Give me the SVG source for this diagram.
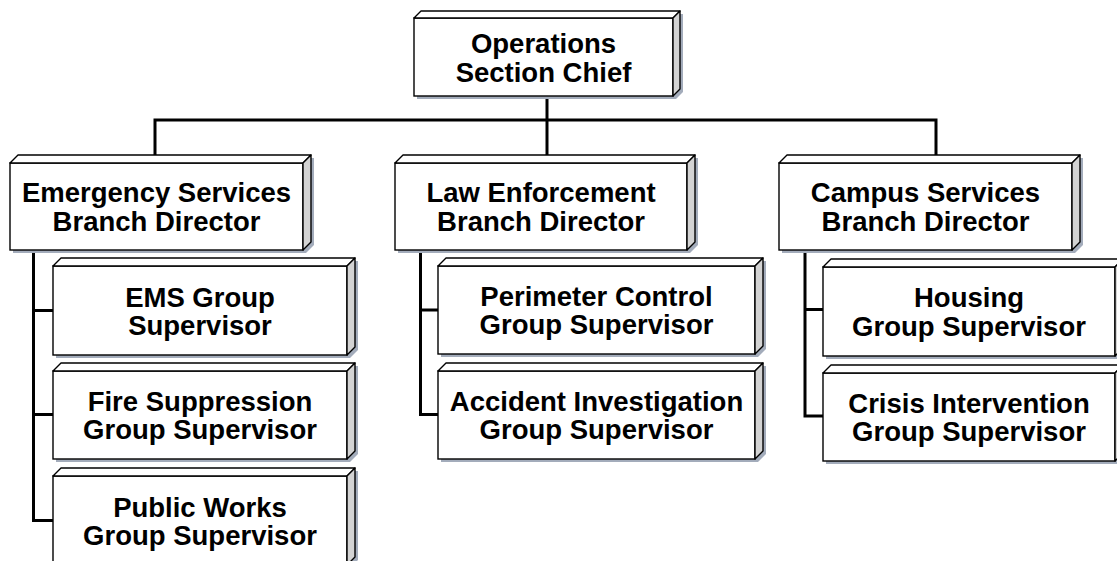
<svg xmlns="http://www.w3.org/2000/svg" width="1117" height="561" viewBox="0 0 1117 561">
<style>
.sh{fill:#a3acbb;stroke:none}
.fr{fill:#ffffff;stroke:#000;stroke-width:1.4}
.tp{fill:#ffffff;stroke:#000;stroke-width:1.4;stroke-linejoin:round}
.sd{fill:#d3d3d3;stroke:#000;stroke-width:1.4;stroke-linejoin:round}
.cn{fill:none;stroke:#000;stroke-width:3;stroke-linejoin:miter}
text{font-family:"Liberation Sans",Arial,sans-serif;font-weight:bold;font-size:27.5px;text-anchor:middle;fill:#000}
</style>
<rect width="1117" height="561" fill="#ffffff"/>
<g id="connectors">
<path class="cn" d="M155,163 V120 H936 V163"/>
<path class="cn" d="M547,96 V163"/>
<path class="cn" d="M33.5,250 V520.5 H53 M33.5,310.5 H53 M33.5,414.5 H53"/>
<path class="cn" d="M420.5,250 V414.5 H438 M420.5,310 H438"/>
<path class="cn" d="M805,250 V416 H823 M805,309.5 H823"/>
</g>
<g id="ops-chief">
<path class="sh" d="M417,21 L424,14 L683,14 L683,92 L676,99 L417,99 Z"/>
<rect class="fr" x="414" y="18" width="259" height="78"/>
<polygon class="tp" points="414,18 421,11 680,11 673,18"/>
<polygon class="sd" points="673,18 680,11 680,89 673,96"/>
<text x="543.5" y="52.5">Operations</text>
<text x="543.5" y="81.5">Section Chief</text>
</g>
<g id="emergency-branch">
<path class="sh" d="M13,166 L21,158 L314,158 L314,245 L306,253 L13,253 Z"/>
<rect class="fr" x="10" y="163" width="293" height="87"/>
<polygon class="tp" points="10,163 18,155 311,155 303,163"/>
<polygon class="sd" points="303,163 311,155 311,242 303,250"/>
<text x="156.5" y="202">Emergency Services</text>
<text x="156.5" y="230.5">Branch Director</text>
</g>
<g id="law-branch">
<path class="sh" d="M398,166 L406,158 L698,158 L698,245 L690,253 L398,253 Z"/>
<rect class="fr" x="395" y="163" width="292" height="87"/>
<polygon class="tp" points="395,163 403,155 695,155 687,163"/>
<polygon class="sd" points="687,163 695,155 695,242 687,250"/>
<text x="541" y="202">Law Enforcement</text>
<text x="541" y="230.5">Branch Director</text>
</g>
<g id="campus-branch">
<path class="sh" d="M782,166 L790,158 L1083,158 L1083,245 L1075,253 L782,253 Z"/>
<rect class="fr" x="779" y="163" width="293" height="87"/>
<polygon class="tp" points="779,163 787,155 1080,155 1072,163"/>
<polygon class="sd" points="1072,163 1080,155 1080,242 1072,250"/>
<text x="925.5" y="202">Campus Services</text>
<text x="925.5" y="230.5">Branch Director</text>
</g>
<g id="ems-group">
<path class="sh" d="M56,269 L64,261 L358,261 L358,350 L350,358 L56,358 Z"/>
<rect class="fr" x="53" y="266" width="294" height="89"/>
<polygon class="tp" points="53,266 61,258 355,258 347,266"/>
<polygon class="sd" points="347,266 355,258 355,347 347,355"/>
<text x="200" y="306.5">EMS Group</text>
<text x="200" y="334.5">Supervisor</text>
</g>
<g id="fire-group">
<path class="sh" d="M56,374 L64,366 L358,366 L358,454 L350,462 L56,462 Z"/>
<rect class="fr" x="53" y="371" width="294" height="88"/>
<polygon class="tp" points="53,371 61,363 355,363 347,371"/>
<polygon class="sd" points="347,371 355,363 355,451 347,459"/>
<text x="200" y="411">Fire Suppression</text>
<text x="200" y="439">Group Supervisor</text>
</g>
<g id="publicworks-group">
<path class="sh" d="M56,479 L64,471 L358,471 L358,560 L350,568 L56,568 Z"/>
<rect class="fr" x="53" y="476" width="294" height="89"/>
<polygon class="tp" points="53,476 61,468 355,468 347,476"/>
<polygon class="sd" points="347,476 355,468 355,557 347,565"/>
<text x="200" y="516.5">Public Works</text>
<text x="200" y="544.5">Group Supervisor</text>
</g>
<g id="perimeter-group">
<path class="sh" d="M441,269 L449,261 L766,261 L766,349 L758,357 L441,357 Z"/>
<rect class="fr" x="438" y="266" width="317" height="88"/>
<polygon class="tp" points="438,266 446,258 763,258 755,266"/>
<polygon class="sd" points="755,266 763,258 763,346 755,354"/>
<text x="596.5" y="306">Perimeter Control</text>
<text x="596.5" y="334">Group Supervisor</text>
</g>
<g id="accident-group">
<path class="sh" d="M441,374 L449,366 L766,366 L766,454 L758,462 L441,462 Z"/>
<rect class="fr" x="438" y="371" width="317" height="88"/>
<polygon class="tp" points="438,371 446,363 763,363 755,371"/>
<polygon class="sd" points="755,371 763,363 763,451 755,459"/>
<text x="596.5" y="411">Accident Investigation</text>
<text x="596.5" y="439">Group Supervisor</text>
</g>
<g id="housing-group">
<path class="sh" d="M826,270 L834,262 L1126,262 L1126,351 L1118,359 L826,359 Z"/>
<rect class="fr" x="823" y="267" width="292" height="89"/>
<polygon class="tp" points="823,267 831,259 1123,259 1115,267"/>
<polygon class="sd" points="1115,267 1123,259 1123,348 1115,356"/>
<text x="969" y="307">Housing</text>
<text x="969" y="335.5">Group Supervisor</text>
</g>
<g id="crisis-group">
<path class="sh" d="M826,376 L834,368 L1126,368 L1126,456 L1118,464 L826,464 Z"/>
<rect class="fr" x="823" y="373" width="292" height="88"/>
<polygon class="tp" points="823,373 831,365 1123,365 1115,373"/>
<polygon class="sd" points="1115,373 1123,365 1123,453 1115,461"/>
<text x="969" y="413">Crisis Intervention</text>
<text x="969" y="441">Group Supervisor</text>
</g>
</svg>
